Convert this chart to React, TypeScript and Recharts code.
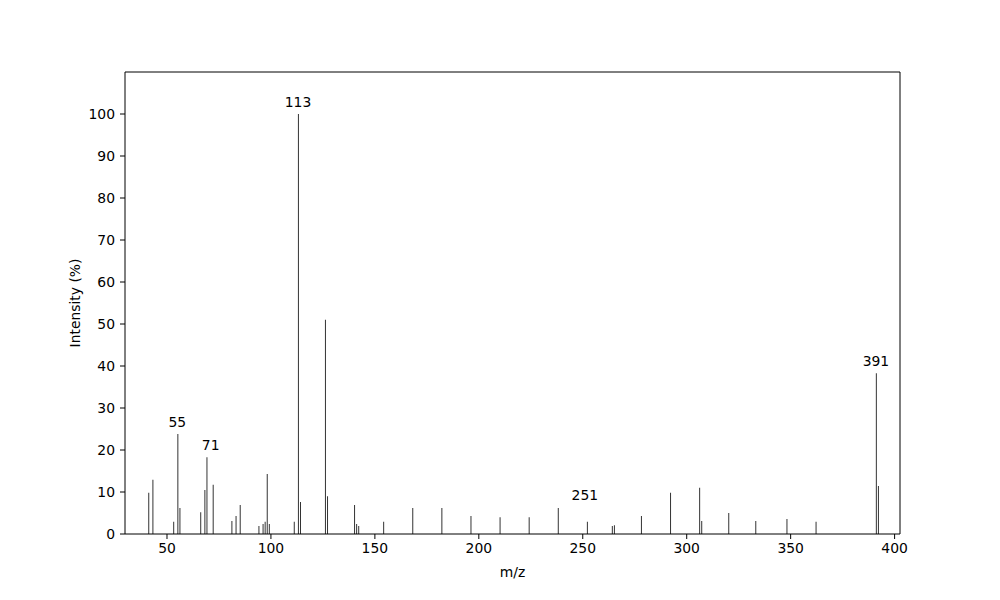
import React from 'react';
import { BarChart, Bar, XAxis, YAxis, ReferenceDot, ReferenceLine } from 'recharts';

const mzValues = [
  41, 43, 53, 55, 56, 66, 68, 69, 72, 81, 83, 85, 94, 96, 97, 98, 99, 111, 113, 114, 126, 127,
  140, 141, 142, 154, 168, 182, 196, 210, 224, 238, 252, 264, 265, 278, 292, 306, 307, 320, 333,
  348, 362, 391, 392,
];
const intensities = [
  9.8, 12.9, 2.9, 23.8, 6.2, 5.2, 10.5, 18.3, 11.7, 3.1, 4.3, 6.9, 1.9, 2.4, 2.9, 14.3, 2.4, 2.9,
  100, 7.6, 51, 9.0, 6.9, 2.4, 1.9, 2.9, 6.2, 6.2, 4.3, 4.0, 4.0, 6.2, 2.9, 1.9, 2.1, 4.3, 9.8,
  11.0, 3.1, 5.0, 3.1, 3.6, 2.9, 38.3, 11.4,
];

// labelled peaks
const peakLabels = ['55', '71', '113', '251', '391'];
const peakMz = [55, 71, 113, 251, 391];
const peakHeights = [23.8, 18.3, 100, 6.4, 38.3];

const xTicks = [50, 100, 150, 200, 250, 300, 350, 400];
const yTicks = [0, 10, 20, 30, 40, 50, 60, 70, 80, 90, 100];
const xDomain = [29.8, 402.6];
const yDomain = [0, 110];

const font = 'DejaVu Sans, sans-serif';
const tickStyle = { fill: '#000', fontSize: 13.9, fontFamily: font };

export default function App() {
  const data = mzValues.map((mz, i) => ({ mz, intensity: intensities[i] }));

  return (
    <div style={{ position: 'absolute', left: 0, top: 0, width: 1000, height: 600, background: '#fff' }}>
      <BarChart width={1000} height={600} data={data} margin={{ top: 72, right: 100, left: 0, bottom: 0 }}>
        <XAxis
          dataKey="mz"
          type="number"
          domain={xDomain}
          ticks={xTicks}
          allowDataOverflow
          height={66}
          stroke="#000"
          tick={tickStyle}
          tickSize={5}
          tickMargin={4}
          label={{ value: 'm/z', position: 'insideBottom', offset: 23, fill: '#000', fontSize: 13.9, fontFamily: font }}
        />
        <YAxis
          type="number"
          domain={yDomain}
          ticks={yTicks}
          width={125}
          stroke="#000"
          tick={tickStyle}
          tickSize={5}
          tickMargin={5}
          label={{ value: 'Intensity (%)', angle: -90, position: 'insideLeft', offset: 75, fill: '#000', fontSize: 13.9, fontFamily: font, style: { textAnchor: 'middle' } }}
        />
        {/* top and right frame lines */}
        <ReferenceLine y={yDomain[1]} stroke="#000" ifOverflow="visible" />
        <ReferenceLine x={xDomain[1]} stroke="#000" ifOverflow="visible" />
        <Bar dataKey="intensity" fill="#333" barSize={1} isAnimationActive={false} />
        {peakMz.map((mz, i) => (
          <ReferenceDot
            key={peakLabels[i]}
            x={mz}
            y={peakHeights[i]}
            r={0}
            fill="none"
            stroke="none"
            ifOverflow="visible"
            label={{ value: peakLabels[i], position: 'top', offset: 7, fill: '#000', fontSize: 13.9, fontFamily: font }}
          />
        ))}
      </BarChart>
    </div>
  );
}
